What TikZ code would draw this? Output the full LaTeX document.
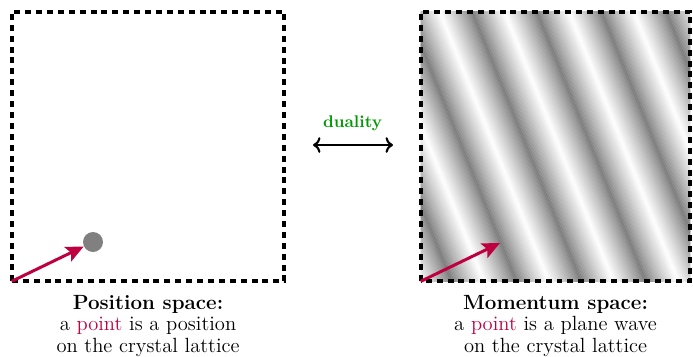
\documentclass[tikz,border=0pt]{standalone}
\usepackage{amsmath}
\usepackage{amssymb}
\usepackage{xcolor}
\usepackage{tikz}
\usetikzlibrary{positioning,arrows.meta}

\colorlet{darkband}{gray!97!black}

\begin{document}
\begin{tikzpicture}[
		frame/.style={line width=2.4pt, dash pattern=on 3.4pt off 2.8pt},
		kvec/.style={purple, line width=1.7pt, -{Stealth[length=10pt,width=9pt,inset=2pt]}},
		caption/.style={align=center, inner sep=2pt, font=\fontsize{11.7}{12.3}\selectfont}
	]
		\useasboundingbox (0,0) rectangle (13.86,7.12);

		\node(posbox)[minimum width=5.44cm, minimum height=5.38cm, inner sep=0pt] at (2.96,4.19){};
		\node(wavebox)[minimum width=5.38cm, minimum height=5.38cm, inner sep=0pt] at (11.11,4.19){};

		% plane wave stripes
		\begin{scope}
			\clip (wavebox.south west) rectangle (wavebox.north east);
			\begin{scope}[shift={(wavebox.south west)}, rotate=22]
				\foreach \u [evaluate=\u as \t using {100*abs(2*mod((\u+3.64)/1.2,1)-1)^0.85}] in {-3,-2.97,...,8}
					\fill[white!\t!darkband] (\u,-4) rectangle ++(0.035,12);
			\end{scope}
		\end{scope}

		\draw[frame] (posbox.south west) rectangle (posbox.north east);
		\draw[frame] (wavebox.south west) rectangle (wavebox.north east);

		\node(pt)[circle, fill=gray, minimum size=0.4cm, inner sep=0pt] at (1.86,2.28){};
		\coordinate(k) at (10.0,2.26);
		\draw[kvec] (posbox.south west) -- (pt);
		\draw[kvec] (wavebox.south west) -- (k);

		\coordinate(dl) at (6.26,4.22);
		\coordinate(dr) at (7.86,4.22);
		\node(dual)[green!60!black, font=\fontsize{9.6}{11}\selectfont\bfseries] at (7.05,4.66){duality};
		\draw[<->, line width=1.2pt] (dl) -- (dr);

		\node(poslbl)[caption, below=0.2cm of posbox]{\textbf{Position space:}\\ a \textcolor{purple}{point} is a position\\ on the crystal lattice};
		\node(wavelbl)[caption, below=0.2cm of wavebox]{\textbf{Momentum space:}\\ a \textcolor{purple}{point} is a plane wave\\ on the crystal lattice};
	\end{tikzpicture}
\end{document}
